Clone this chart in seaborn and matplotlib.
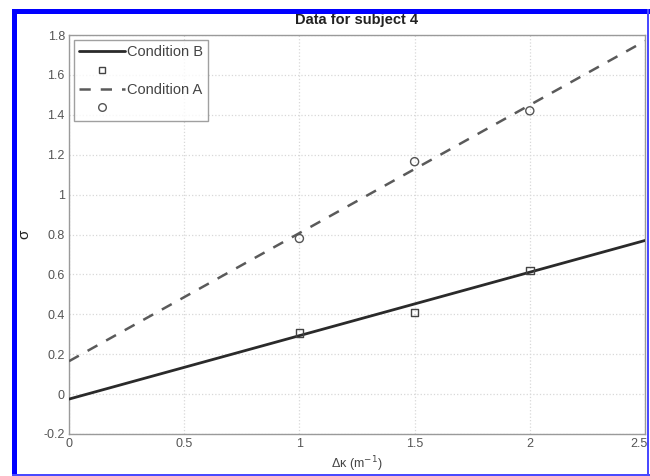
import matplotlib
matplotlib.use("Agg")
import matplotlib.pyplot as plt
import matplotlib.transforms as mtrans
from matplotlib.patches import Rectangle
from matplotlib.lines import Line2D
import seaborn as sns
import pandas as pd

# data
points_x = [1.0, 1.5, 2.0]
cond_b_pts = [0.306, 0.41, 0.62]
cond_a_pts = [0.78, 1.165, 1.42]
line_x = [0.0, 2.5]
cond_b_line = [-0.025, 0.77]
cond_a_line = [0.165, 1.77]
xticks = [0, 0.5, 1, 1.5, 2, 2.5]
xticklabels = ["0", "0.5", "1", "1.5", "2", "2.5"]
yticks = [-0.2, 0, 0.2, 0.4, 0.6, 0.8, 1.0, 1.2, 1.4, 1.6, 1.8]
yticklabels = ["-0.2", "0", "0.2", "0.4", "0.6", "0.8", "1", "1.2", "1.4", "1.6", "1.8"]

sns.set_theme(style="white")
plt.rcParams['font.family'] = ['Liberation Sans', 'DejaVu Sans']

fig = plt.figure(figsize=(6.5, 4.76), dpi=100)
ax = fig.add_axes([69/650, 1-434/476, (645-69)/650, (434-35)/476])

df_bl = pd.DataFrame({"x": line_x, "y": cond_b_line})
df_al = pd.DataFrame({"x": line_x, "y": cond_a_line})
df_bp = pd.DataFrame({"x": points_x, "y": cond_b_pts})
df_ap = pd.DataFrame({"x": points_x, "y": cond_a_pts})

sns.lineplot(data=df_bl, x="x", y="y", ax=ax, color="#2a2a2a", lw=2.0, zorder=3)
sns.lineplot(data=df_al, x="x", y="y", ax=ax, color="#5a5a5a", lw=1.8, zorder=3)
ax.lines[-1].set_dashes([4.5, 4])
sns.scatterplot(data=df_bp, x="x", y="y", ax=ax, marker="s", s=30,
                facecolor="none", edgecolor="#444444", linewidth=1.0, zorder=4)
sns.scatterplot(data=df_ap, x="x", y="y", ax=ax, marker="o", s=34,
                facecolor="none", edgecolor="#555555", linewidth=1.0, zorder=4)

ax.set_xlim(0, 2.5)
ax.set_ylim(-0.2, 1.8)
ax.set_xticks(xticks)
ax.set_xticklabels(xticklabels)
ax.set_yticks(yticks)
ax.set_yticklabels(yticklabels)
ax.grid(True, color="#d8d8d8", linestyle=":", linewidth=0.9)
for s in ax.spines.values():
    s.set_color("#9a9a9a")
    s.set_linewidth(1.0)
ax.tick_params(axis="both", colors="#555555", labelsize=9, length=3,
               direction="in", pad=3)
for lab in ax.get_xticklabels() + ax.get_yticklabels():
    lab.set_color("#555555")
last = ax.get_xticklabels()[-1]
last.set_transform(last.get_transform() +
                   mtrans.ScaledTranslation(-6/100, 0, fig.dpi_scale_trans))

ax.set_xlabel("Δκ (m$^{-1}$)", fontsize=9, color="#444444")
ax.xaxis.set_label_coords(0.5, -0.05)
ax.set_ylabel("σ", fontsize=11, color="#222222", rotation=90)
ax.yaxis.set_label_coords((31-69)/576, 0.5)
ax.set_title("Data for subject 4", fontsize=10.5, color="#222222",
             fontweight="bold", pad=8)

handles = [
    Line2D([], [], color="#2a2a2a", lw=2.0),
    Line2D([], [], ls="none", marker="s", mfc="none", mec="#444444", ms=5),
    Line2D([], [], color="#5a5a5a", lw=1.8, dashes=[4.5, 4]),
    Line2D([], [], ls="none", marker="o", mfc="none", mec="#555555", ms=5.5),
]
labels = ["Condition B", " ", "Condition A", " "]
leg = ax.legend(handles, labels, loc="upper left", bbox_to_anchor=(0.004, 0.994),
                fontsize=10.5, frameon=True, fancybox=False, handlelength=3.1,
                handletextpad=0.15, borderpad=0.35, labelspacing=0.32,
                borderaxespad=0.2)
leg.get_frame().set_edgecolor("#888888")
leg.get_frame().set_linewidth(1.0)
for t in leg.get_texts():
    t.set_color("#444444")

# blue frame around the picture
W, H = 650, 476
fig.patches.append(Rectangle((12/W, 1-14/H), (650-12)/W, 5/H, transform=fig.transFigure,
                             facecolor="#0000ff", edgecolor="none", zorder=10))
fig.patches.append(Rectangle((12/W, 0), 5/W, (476-9)/H, transform=fig.transFigure,
                             facecolor="#0000ff", edgecolor="none", zorder=10))
fig.patches.append(Rectangle((647/W, 0), 2/W, (476-9)/H, transform=fig.transFigure,
                             facecolor="#4a4aff", edgecolor="none", zorder=10))
fig.patches.append(Rectangle((12/W, 0.5/H), (650-12)/W, 2/H, transform=fig.transFigure,
                             facecolor="#4a4aff", edgecolor="none", zorder=10))

fig.savefig("out.png", dpi=100)
